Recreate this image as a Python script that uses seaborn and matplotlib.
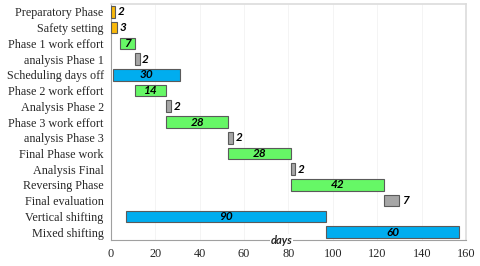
import matplotlib
matplotlib.use("Agg")
import matplotlib.pyplot as plt
import seaborn as sns

tasks = ["Preparatory Phase", "Safety setting", "Phase 1 work effort", "analysis Phase 1",
         "Scheduling days off", "Phase 2 work effort", "Analysis Phase 2", "Phase 3 work effort",
         "analysis Phase 3", "Final Phase work", "Analysis Final", "Reversing Phase",
         "Final evaluation", "Vertical shifting", "Mixed shifting"]
starts = [0, 0, 4, 11, 1, 11, 25, 25, 53, 53, 81, 81, 123, 7, 97]
durations = [2, 3, 7, 2, 30, 14, 2, 28, 2, 28, 2, 42, 7, 90, 60]
kinds = ["prep", "prep", "work", "analysis", "break", "work", "analysis", "work",
         "analysis", "work", "analysis", "work", "analysis", "shift", "shift"]
xticks = [0, 20, 40, 60, 80, 100, 120, 140, 160]

colors = {"prep": "#F9B90A", "work": "#66F766", "analysis": "#A6A6A6",
          "break": "#00ADEF", "shift": "#00ADEF"}

sns.set_style("white")
fig = plt.figure(figsize=(4.8, 2.66), dpi=100)
ax = fig.add_axes([0.2306, 0.0977, 0.7404, 0.8873])

ypos = list(range(len(tasks)))
ax.barh(ypos, durations, left=starts, height=0.74,
        color=[colors[k] for k in kinds], edgecolor="#5a5a5a", linewidth=0.8, zorder=3)

for y, s, d, k in zip(ypos, starts, durations, kinds):
    if k in ("prep", "analysis"):
        ax.text(s + d + 1.2, y, str(d), ha="left", va="center", fontsize=8.5,
                fontweight="bold", fontstyle="italic", family="Lato", color="black", zorder=4)
    else:
        ax.text(s + d / 2, y, str(d), ha="center", va="center", fontsize=8.5,
                fontweight="bold", fontstyle="italic", family="Lato", color="black", zorder=4)

ax.set_xlim(0, 160)
ax.set_ylim(14.5, -0.5)
ax.set_yticks(ypos)
ax.set_yticklabels(tasks, family="Liberation Serif", fontsize=8.7)
ax.set_xticks(xticks)
ax.set_xticklabels([str(t) for t in xticks], family="Liberation Serif", fontsize=8.8)
ax.tick_params(axis="y", direction="out", length=3, width=0.6, color="#a0a0a0", pad=2)
ax.tick_params(axis="x", direction="in", length=3, width=0.6, color="#a0a0a0", pad=6)

ax.grid(axis="x", color="#f2f2f2", linewidth=0.6, zorder=0)
for side in ("left", "bottom"):
    ax.spines[side].set_color("#a0a0a0")
    ax.spines[side].set_linewidth(0.8)
for side in ("top", "right"):
    ax.spines[side].set_color("#dcdcdc")
    ax.spines[side].set_linewidth(1.2)

ax.text(77, 14.5, "days", ha="center", va="center", fontsize=8, fontweight="bold",
        fontstyle="italic", family="Lato", zorder=5, clip_on=False,
        bbox=dict(facecolor="white", edgecolor="none", pad=0.5))

fig.savefig("out.png", dpi=100)
